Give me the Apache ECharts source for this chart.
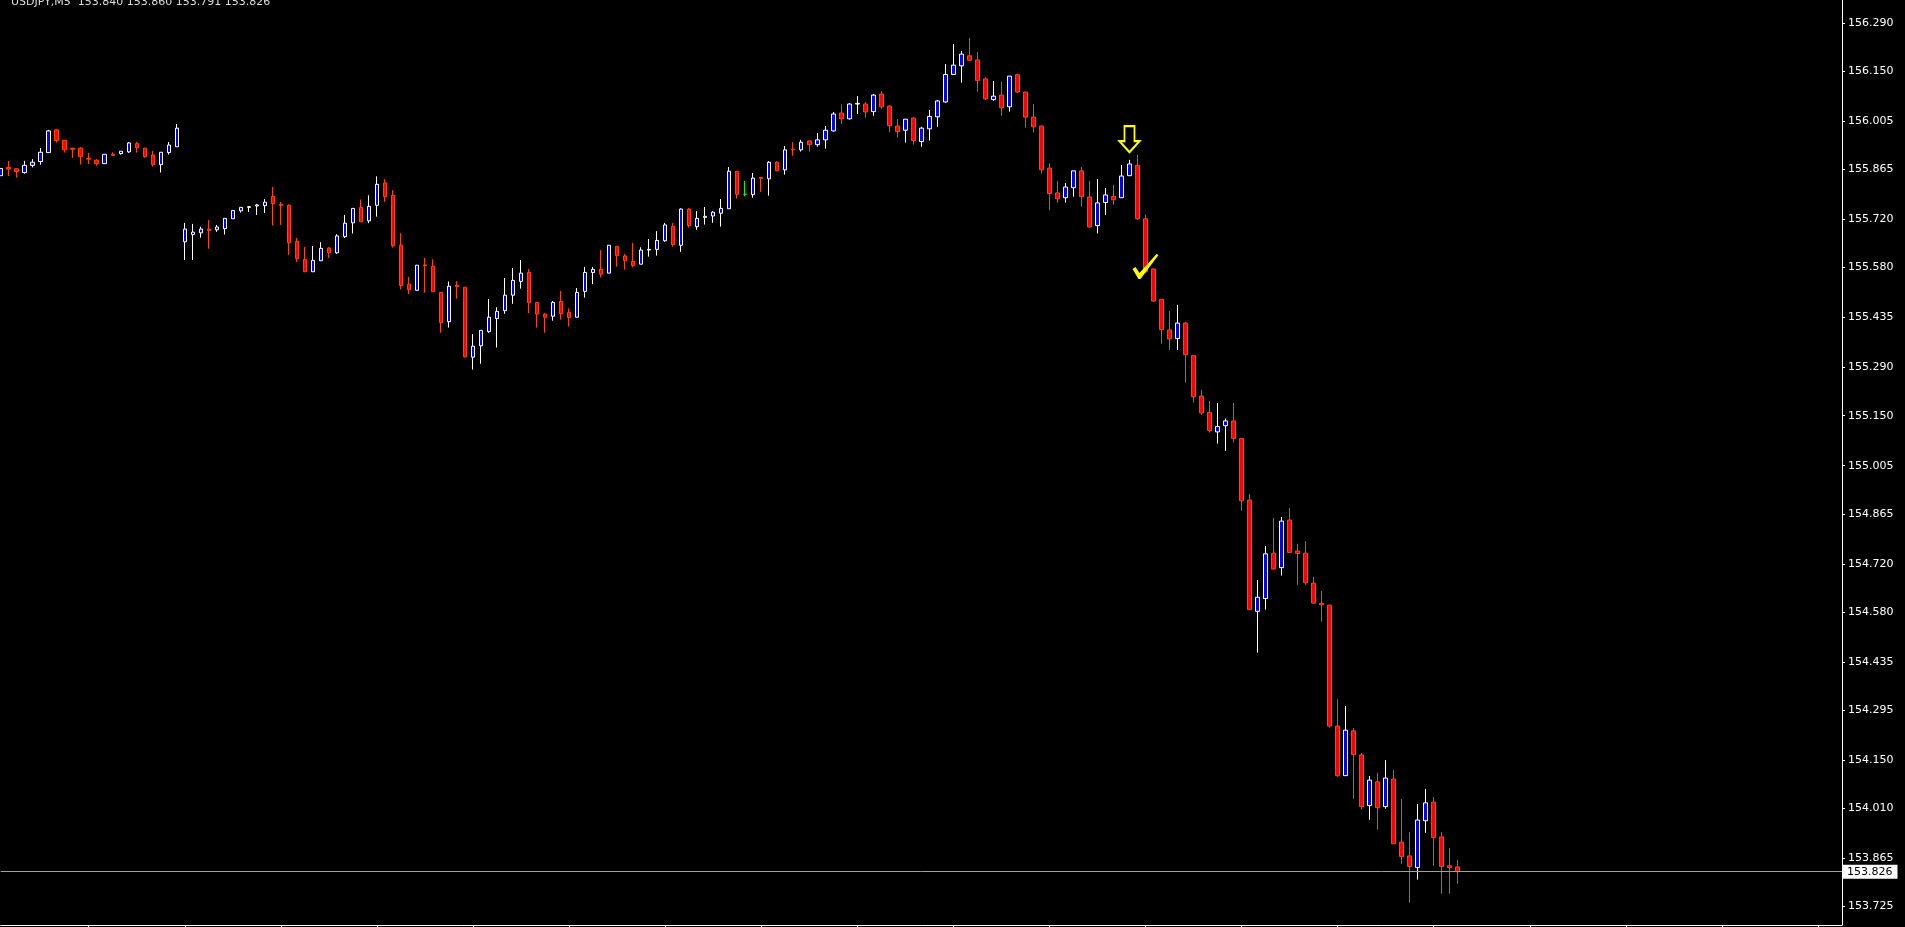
<!DOCTYPE html>
<html>
<head>
<meta charset="utf-8">
<style>
html,body{margin:0;padding:0;background:#000;overflow:hidden;}
#chart{width:1905px;height:927px;}
</style>
<script src="https://cdn.jsdelivr.net/npm/echarts@6/dist/echarts.min.js"></script>
</head>
<body>
<div id="chart"></div>
<script>
// ---- Data (USDJPY, M5) ----
const titleText = 'USDJPY,M5  153.840 153.860 153.791 153.826';
const slotCount = 231; // candle slots on the time axis (chart shifted, empty on the right)

const open = [
155.847,155.871,155.867,155.856,155.877,155.888,155.914,155.980,155.950,155.927,
155.927,155.897,155.892,155.882,155.910,155.911,155.916,155.940,155.927,155.907,
155.879,155.914,155.931,155.655,155.676,155.681,155.692,155.690,155.693,155.722,
155.745,155.755,155.759,155.760,155.787,155.764,155.761,155.656,155.604,155.568,
155.600,155.637,155.623,155.670,155.710,155.755,155.716,155.761,155.826,155.790,
155.645,155.532,155.514,155.588,155.584,155.508,155.423,155.529,155.523,155.320,
155.353,155.394,155.432,155.455,155.500,155.540,155.566,155.479,155.445,155.439,
155.482,155.450,155.436,155.511,155.566,155.575,155.564,155.642,155.614,155.598,
155.590,155.631,155.633,155.658,155.700,155.645,155.750,155.699,155.726,155.730,
155.738,155.751,155.860,155.793,155.792,155.842,155.838,155.886,155.864,155.924,
155.922,155.948,155.937,155.951,155.977,156.029,156.012,156.055,156.055,156.033,
156.084,156.049,155.991,155.979,156.014,155.946,155.983,156.018,156.061,156.141,
156.166,156.195,156.183,156.128,156.068,156.081,156.047,156.140,156.090,156.017,
155.991,155.869,155.797,155.783,155.812,155.861,155.785,155.702,155.769,155.787,
155.783,155.847,155.877,155.722,155.576,155.488,155.399,155.374,155.419,155.325,
155.207,155.160,155.103,155.121,155.135,155.084,154.905,154.582,154.619,154.751,
154.709,154.847,154.757,154.751,154.664,154.605,154.600,154.249,154.105,154.235,
154.165,154.018,154.087,154.015,154.095,153.912,153.872,153.838,153.974,154.028,
153.927,153.843,153.840];

const close = [
155.868,155.866,155.859,155.877,155.886,155.915,155.977,155.949,155.922,155.924,
155.902,155.895,155.882,155.909,155.906,155.918,155.942,155.928,155.902,155.879,
155.915,155.936,155.985,155.692,155.683,155.692,155.688,155.698,155.723,155.746,
155.755,155.757,155.762,155.770,155.766,155.761,155.652,155.606,155.568,155.601,
155.636,155.623,155.672,155.709,155.752,155.713,155.758,155.822,155.786,155.643,
155.528,155.516,155.587,155.586,155.510,155.420,155.526,155.525,155.321,155.352,
155.398,155.436,155.453,155.500,155.543,155.564,155.478,155.445,155.436,155.479,
155.446,155.435,155.508,155.566,155.575,155.561,155.645,155.615,155.600,155.586,
155.631,155.633,155.659,155.704,155.647,155.750,155.702,155.723,155.729,155.741,
155.752,155.860,155.793,155.793,155.840,155.839,155.886,155.861,155.922,155.922,
155.944,155.937,155.951,155.979,156.026,156.012,156.055,156.057,156.032,156.081,
156.047,155.992,155.975,156.011,155.949,155.985,156.019,156.064,156.141,156.168,
156.200,156.182,156.123,156.070,156.078,156.044,156.136,156.090,156.017,155.989,
155.864,155.795,155.780,155.814,155.861,155.786,155.698,155.768,155.791,155.777,
155.846,155.881,155.722,155.568,155.483,155.400,155.373,155.419,155.327,155.205,
155.158,155.107,155.119,155.135,155.084,154.903,154.587,154.623,154.749,154.705,
154.844,154.753,154.750,154.665,154.606,154.601,154.249,154.105,154.237,154.166,
154.015,154.092,154.012,154.098,153.907,153.870,153.841,153.976,154.026,153.925,
153.841,153.838,153.826];

const low = [
155.847,155.846,155.841,155.853,155.871,155.879,155.914,155.943,155.914,155.899,
155.879,155.881,155.876,155.882,155.905,155.908,155.913,155.914,155.899,155.873,
155.856,155.908,155.931,155.602,155.602,155.667,155.635,155.684,155.676,155.722,
155.740,155.742,155.733,155.739,155.702,155.704,155.617,155.596,155.568,155.568,
155.600,155.608,155.620,155.666,155.679,155.713,155.709,155.728,155.771,155.638,
155.517,155.503,155.514,155.507,155.510,155.391,155.406,155.490,155.319,155.284,
155.301,155.391,155.348,155.446,155.475,155.519,155.448,155.406,155.391,155.426,
155.429,155.409,155.436,155.493,155.532,155.551,155.564,155.583,155.574,155.581,
155.590,155.612,155.615,155.655,155.641,155.626,155.696,155.690,155.705,155.710,
155.699,155.751,155.780,155.787,155.783,155.800,155.789,155.861,155.850,155.905,
155.917,155.917,155.931,155.925,155.975,155.998,156.010,156.026,156.015,156.021,
156.041,155.973,155.957,155.943,155.937,155.931,155.949,155.989,156.059,156.141,
156.117,156.182,156.091,156.067,156.064,156.021,156.033,156.088,155.986,155.972,
155.853,155.747,155.768,155.769,155.786,155.757,155.696,155.679,155.733,155.762,
155.783,155.847,155.718,155.564,155.481,155.359,155.341,155.341,155.246,155.188,
155.153,155.101,155.069,155.048,155.072,154.874,154.587,154.462,154.587,154.703,
154.686,154.752,154.659,154.659,154.604,154.552,154.244,154.102,154.105,154.038,
154.006,153.977,153.948,154.009,153.907,153.849,153.736,153.803,153.939,153.843,
153.762,153.762,153.791];

const high = [
155.868,155.890,155.867,155.890,155.895,155.927,155.980,155.983,155.950,155.927,
155.930,155.913,155.895,155.909,155.915,155.918,155.945,155.945,155.927,155.919,
155.915,155.945,155.997,155.710,155.707,155.699,155.718,155.704,155.723,155.746,
155.755,155.759,155.765,155.779,155.814,155.771,155.764,155.666,155.640,155.643,
155.654,155.640,155.677,155.733,155.752,155.778,155.790,155.845,155.837,155.805,
155.680,155.553,155.587,155.608,155.604,155.508,155.540,155.541,155.523,155.387,
155.398,155.489,155.465,155.550,155.579,155.602,155.576,155.479,155.448,155.483,
155.512,155.462,155.521,155.582,155.582,155.631,155.645,155.642,155.620,155.652,
155.639,155.663,155.686,155.710,155.710,155.752,155.753,155.744,155.756,155.744,
155.779,155.872,155.860,155.832,155.855,155.842,155.889,155.889,155.933,155.944,
155.951,155.948,155.971,155.991,156.032,156.054,156.058,156.078,156.061,156.084,
156.093,156.052,156.012,156.011,156.017,155.989,156.038,156.067,156.171,156.229,
156.209,156.247,156.206,156.133,156.122,156.119,156.136,156.143,156.090,156.055,
155.993,155.883,155.832,155.826,155.861,155.872,155.832,155.837,155.811,155.821,
155.878,155.893,155.907,155.735,155.578,155.488,155.454,155.472,155.422,155.325,
155.225,155.193,155.187,155.142,155.187,155.084,154.923,154.673,154.772,154.853,
154.856,154.882,154.778,154.786,154.682,154.641,154.600,154.327,154.307,154.243,
154.171,154.104,154.113,154.150,154.121,154.037,153.941,154.023,154.066,154.043,
153.941,153.895,153.860];

const priceTicks = [156.290,156.150,156.005,155.865,155.720,155.580,155.435,155.290,155.150,
  155.005,154.865,154.720,154.580,154.435,154.295,154.150,154.010,153.865,153.725];
const currentPrice = 153.826;
const yMin = 153.6713, yMax = 156.3571;
const arrowMark = [141, 155.953];   // sell arrow above candle
const checkMark = [143, 155.583];   // check mark

// ---- Build ----
const xData = Array.from({length: slotCount}, (_, i) => String(i));
const candles = open.map((o, i) => {
  const v = [o, close[i], low[i], high[i]];
  if (o === close[i]) {
    return {value: v, itemStyle: {color: '#00ff00', color0: '#00ff00', borderColor: '#00ff00', borderColor0: '#00ff00'}};
  }
  return v;
});

const FONT = 'DejaVu Sans';
const chart = echarts.init(document.getElementById('chart'), null, {renderer: 'canvas'});
chart.setOption({
  backgroundColor: '#000000',
  animation: false,
  grid: {left: 0.67, right: 63, top: 0, bottom: 2, containLabel: false},
  graphic: [{
    type: 'text', x: 11, y: 8, silent: true,
    style: {text: titleText, fill: '#dcdcdc', font: '11px "DejaVu Sans"', verticalAlign: 'bottom'}
  }],
  xAxis: {
    type: 'category', data: xData, boundaryGap: false,
    axisLine: {show: true, lineStyle: {color: '#ffffff', width: 1}},
    axisTick: {show: true, length: 3, interval: (i) => (i - 11) % 12 === 0, lineStyle: {color: '#ffffff'}},
    axisLabel: {show: false},
    splitLine: {show: false}
  },
  yAxis: {
    type: 'value', position: 'right', min: yMin, max: yMax, scale: true,
    axisLine: {show: true, lineStyle: {color: '#ffffff', width: 1}},
    axisTick: {show: true, length: 3, customValues: priceTicks, lineStyle: {color: '#ffffff'}},
    axisLabel: {show: true, customValues: priceTicks, color: '#ffffff', fontFamily: FONT, fontSize: 11, margin: 6,
      formatter: (v) => v.toFixed(3)},
    splitLine: {show: false}
  },
  series: [{
    type: 'candlestick',
    data: candles,
    barWidth: 4,
    clip: false,
    silent: true,
    itemStyle: {
      color: '#0000ff', borderColor: '#ffffff',
      color0: '#ff0000', borderColor0: '#ff4500',
      borderWidth: 1
    },
    markLine: {
      silent: true, symbol: ['none', 'none'], precision: 3,
      lineStyle: {color: '#a0a0a0', width: 1, type: 'solid'},
      label: {show: true, position: 'end', distance: 1, formatter: () => currentPrice.toFixed(3),
        backgroundColor: '#ffffff', color: '#000000', fontFamily: FONT, fontSize: 11, padding: [2, 5, 1, 4]},
      emphasis: {disabled: true},
      data: [{yAxis: currentPrice}]
    },
    markPoint: {
      silent: true,
      label: {show: false},
      data: [
        {coord: [xData[arrowMark[0]], arrowMark[1]], symbol: 'path://M5,0 L15,0 L15,15 L20,15 L10,26 L0,15 L5,15 Z',
          symbolSize: [20, 26], itemStyle: {color: '#000000', borderColor: '#ffff00', borderWidth: 2}},
        {coord: [xData[checkMark[0]], checkMark[1]], symbol: 'path://M0,15 L3,13 L7,19 L24,0 L26,1 L8,25 L6,25 Z',
          symbolSize: [26, 25], itemStyle: {color: '#ffff00', borderWidth: 0}}
      ]
    }
  }]
});
</script>
</body>
</html>
